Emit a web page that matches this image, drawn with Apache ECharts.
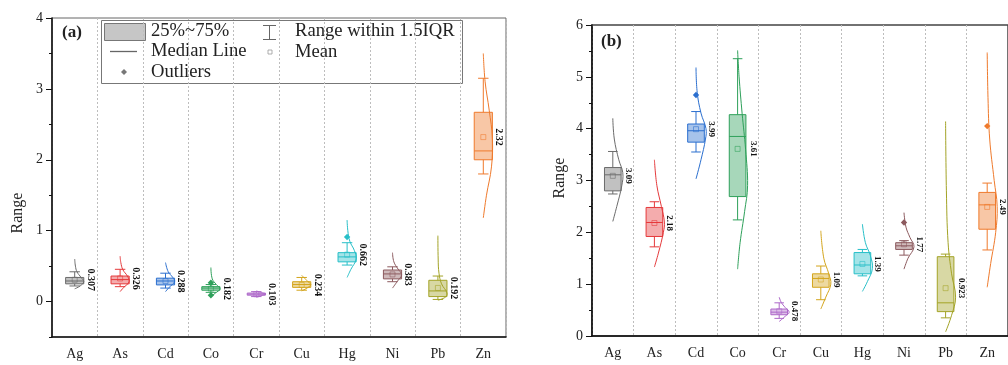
<!DOCTYPE html>
<html>
<head>
<meta charset="utf-8">
<script src="https://cdn.jsdelivr.net/npm/echarts@6/dist/echarts.min.js"></script>
<style>
  html, body { margin: 0; padding: 0; background: #fff; }
  #chart { width: 1008px; height: 365px; }
</style>
</head>
<body>
<div id="chart"></div>
<script>
const categories = ['Ag', 'As', 'Cd', 'Co', 'Cr', 'Cu', 'Hg', 'Ni', 'Pb', 'Zn'];

// panel (a)
const aQ1     = [0.25, 0.25, 0.235, 0.16, 0.09, 0.20, 0.56, 0.32, 0.07, 2.00];
const aMedian = [0.29, 0.31, 0.29, 0.19, 0.105, 0.24, 0.63, 0.39, 0.15, 2.125];
const aQ3     = [0.34, 0.36, 0.33, 0.21, 0.12, 0.28, 0.69, 0.445, 0.30, 2.67];
const aLow    = [0.22, 0.21, 0.19, 0.13, 0.07, 0.16, 0.515, 0.28, 0.03, 1.80];
const aHigh   = [0.42, 0.455, 0.40, 0.24, 0.14, 0.34, 0.83, 0.49, 0.36, 3.15];
const aMean   = [0.307, 0.326, 0.288, 0.182, 0.103, 0.234, 0.662, 0.383, 0.192, 2.32];
const aOutliers = [[], [], [], [0.265, 0.09], [], [], [0.91], [], [], []];
// [value, relative density]
const aViolin = [
  [[0.18, 0], [0.22, 0.6], [0.28, 1], [0.34, 0.7], [0.42, 0.25], [0.5, 0.08], [0.6, 0]],
  [[0.14, 0], [0.2, 0.4], [0.28, 1], [0.36, 0.8], [0.45, 0.3], [0.55, 0.08], [0.64, 0]],
  [[0.14, 0], [0.2, 0.4], [0.28, 1], [0.34, 0.8], [0.42, 0.3], [0.55, 0]],
  [[0.07, 0], [0.12, 0.5], [0.18, 1], [0.24, 0.6], [0.32, 0.15], [0.48, 0]],
  [[0.06, 0], [0.09, 0.7], [0.105, 1], [0.12, 0.7], [0.15, 0]],
  [[0.15, 0], [0.2, 0.7], [0.24, 1], [0.28, 0.7], [0.37, 0]],
  [[0.34, 0], [0.45, 0.4], [0.6, 1], [0.72, 0.8], [0.85, 0.3], [1.0, 0.08], [1.15, 0]],
  [[0.19, 0], [0.28, 0.5], [0.38, 1], [0.46, 0.6], [0.56, 0.15], [0.69, 0]],
  [[0.02, 0], [0.06, 0.8], [0.12, 1], [0.25, 0.4], [0.4, 0.12], [0.6, 0.03], [0.93, 0]],
  [[1.18, 0], [1.5, 0.35], [1.9, 0.9], [2.3, 1], [2.7, 0.65], [3.1, 0.2], [3.5, 0]]
];

// panel (b)
const bQ1     = [2.80, 1.92, 3.74, 2.69, 0.41, 0.94, 1.20, 1.67, 0.47, 2.06];
const bMedian = [3.11, 2.19, 3.96, 3.85, 0.46, 1.11, 1.37, 1.74, 0.64, 2.53];
const bQ3     = [3.25, 2.48, 4.09, 4.27, 0.52, 1.20, 1.61, 1.80, 1.53, 2.77];
const bLow    = [2.74, 1.72, 3.55, 2.24, 0.34, 0.70, 1.16, 1.56, 0.35, 1.66];
const bHigh   = [3.56, 2.59, 4.33, 5.35, 0.64, 1.35, 1.67, 1.84, 1.58, 2.95];
const bMean   = [3.09, 2.18, 3.99, 3.61, 0.478, 1.09, 1.39, 1.77, 0.923, 2.49];
const bOutliers = [[], [], [4.65], [], [], [], [], [2.19], [], [4.05]];
const bViolin = [
  [[2.21, 0], [2.5, 0.4], [2.9, 0.9], [3.15, 1], [3.4, 0.6], [3.8, 0.15], [4.2, 0]],
  [[1.33, 0], [1.6, 0.4], [2.0, 0.9], [2.2, 1], [2.5, 0.7], [2.9, 0.25], [3.4, 0]],
  [[3.03, 0], [3.4, 0.5], [3.8, 0.95], [4.0, 1], [4.3, 0.5], [4.7, 0.12], [5.18, 0]],
  [[1.29, 0], [1.8, 0.25], [2.4, 0.7], [2.9, 1], [3.6, 0.8], [4.3, 0.45], [5.0, 0.15], [5.51, 0]],
  [[0.28, 0], [0.38, 0.6], [0.46, 1], [0.55, 0.6], [0.65, 0.2], [0.75, 0]],
  [[0.52, 0], [0.75, 0.5], [1.0, 1], [1.2, 0.8], [1.5, 0.3], [2.03, 0]],
  [[0.86, 0], [1.05, 0.5], [1.3, 1], [1.55, 0.8], [1.8, 0.3], [2.16, 0]],
  [[1.29, 0], [1.5, 0.4], [1.72, 1], [1.9, 0.6], [2.1, 0.2], [2.38, 0]],
  [[0.08, 0], [0.4, 0.6], [0.75, 1], [1.2, 0.6], [1.8, 0.25], [2.8, 0.08], [4.14, 0]],
  [[0.94, 0], [1.4, 0.35], [2.0, 0.85], [2.5, 1], [3.0, 0.7], [3.8, 0.25], [4.6, 0.08], [5.47, 0]]
];

const palette = ['#6b6b6b', '#e5393b', '#2b6fcf', '#2ea05a', '#ad68c9', '#d4a51c', '#27bfc8', '#8c5a5e', '#a3a326', '#ef7a2c'];
const serif = '"Liberation Serif", "Times New Roman", serif';

function boxRenderer(p) {
  return function (params, api) {
    const i = api.value(0);
    const cx = api.coord([i, 0])[0];
    const band = api.size([1, 0])[0];
    const y = v => api.coord([i, v])[1];
    const c = palette[i];
    const hw = band * 0.2, cap = band * 0.115, vw = band * p.violinW;
    const line = (x1, y1, x2, y2) => ({ type: 'line', shape: { x1, y1, x2, y2 }, style: { stroke: c, lineWidth: 1 } });
    const kids = [];
    // whiskers + caps
    kids.push(line(cx, y(p.q3[i]), cx, y(p.high[i])));
    kids.push(line(cx, y(p.q1[i]), cx, y(p.low[i])));
    kids.push(line(cx - cap, y(p.high[i]), cx + cap, y(p.high[i])));
    kids.push(line(cx - cap, y(p.low[i]), cx + cap, y(p.low[i])));
    // box
    kids.push({
      type: 'rect',
      shape: { x: cx - hw, y: y(p.q3[i]), width: hw * 2, height: y(p.q1[i]) - y(p.q3[i]) },
      style: { fill: echarts.color.modifyAlpha(c, 0.42), stroke: c, lineWidth: 1 }
    });
    kids.push(line(cx - hw, y(p.median[i]), cx + hw, y(p.median[i])));
    // half violin
    kids.push({
      type: 'polyline',
      shape: { points: p.violin[i].map(d => [cx + d[1] * vw, y(d[0])]), smooth: 0.4 },
      style: { stroke: c, fill: null, lineWidth: 1 }
    });
    // mean
    const my = y(p.mean[i]);
    kids.push({
      type: 'rect',
      shape: { x: cx - 2.5, y: my - 2.5, width: 5, height: 5 },
      style: { fill: null, stroke: echarts.color.modifyAlpha(c, 0.7), lineWidth: 0.8 }
    });
    // outliers
    p.outliers[i].forEach(v => {
      const oy = y(v);
      kids.push({
        type: 'polygon',
        shape: { points: [[cx, oy - 3.2], [cx + 3.2, oy], [cx, oy + 3.2], [cx - 3.2, oy]] },
        style: { fill: c }
      });
    });
    // mean label
    kids.push({
      type: 'text',
      x: cx + band * p.labelOffset,
      y: my,
      rotation: -Math.PI / 2,
      style: {
        text: String(p.mean[i]), fill: '#111', fontFamily: serif, fontWeight: 'bold',
        fontSize: p.labelSize, align: 'center', verticalAlign: 'middle'
      }
    });
    return { type: 'group', children: kids };
  };
}

function xAxisFor(gridIndex) {
  return {
    type: 'category', gridIndex, data: categories,
    axisLine: { show: true, onZero: false, lineStyle: { color: '#111', width: 1.6 } },
    axisTick: { alignWithLabel: true, length: 5, lineStyle: { color: '#111' } },
    axisLabel: { fontFamily: serif, fontSize: 14, color: '#222', margin: 10 },
    splitLine: { show: true, lineStyle: { color: '#bdbdbd', type: [2, 2], width: 1 } }
  };
}

function yAxesFor(gridIndex, min, max, majors) {
  return [
    {
      type: 'value', gridIndex, position: 'left', min, max, interval: 0.5,
      axisLine: { show: true, onZero: false, lineStyle: { color: '#111', width: 1.6 } },
      splitLine: { show: false },
      axisTick: { show: true, length: 3, lineStyle: { color: '#111' } },
      axisLabel: { show: false }
    },
    {
      type: 'value', gridIndex, position: 'left', min, max,
      axisLine: { show: false, onZero: false },
      splitLine: { show: false },
      axisTick: { show: true, length: 6, customValues: majors, lineStyle: { color: '#111' } },
      axisLabel: { customValues: majors, fontFamily: serif, fontSize: 14, color: '#222', margin: 9 }
    }
  ];
}

const panelA = { q1: aQ1, median: aMedian, q3: aQ3, low: aLow, high: aHigh, mean: aMean, outliers: aOutliers, violin: aViolin, violinW: 0.2, labelSize: 10, labelOffset: 0.34 };
const panelB = { q1: bQ1, median: bMedian, q3: bQ3, low: bLow, high: bHigh, mean: bMean, outliers: bOutliers, violin: bViolin, violinW: 0.24, labelSize: 9, labelOffset: 0.37 };

const txt = (x, y, text, extra) => ({
  type: 'text', x, y, silent: true,
  style: Object.assign({ text, fontFamily: serif, fontSize: 18.6, fill: '#222', align: 'left', verticalAlign: 'middle' }, extra || {})
});

const legend = [
  { type: 'rect', shape: { x: 101.5, y: 20.5, width: 361, height: 63 }, style: { fill: '#fff', stroke: '#777', lineWidth: 1 } },
  { type: 'rect', shape: { x: 104.5, y: 23.5, width: 41, height: 17 }, style: { fill: '#c6c6c6', stroke: '#777', lineWidth: 1 } },
  txt(151, 31, '25%~75%'),
  { type: 'line', shape: { x1: 110, y1: 51.5, x2: 137, y2: 51.5 }, style: { stroke: '#666', lineWidth: 1.3 } },
  txt(151, 51, 'Median Line'),
  { type: 'polygon', shape: { points: [[124, 69], [127, 72], [124, 75], [121, 72]] }, style: { fill: '#777' } },
  txt(151, 72, 'Outliers'),
  { type: 'line', shape: { x1: 269.5, y1: 25, x2: 269.5, y2: 40 }, style: { stroke: '#666', lineWidth: 1 } },
  { type: 'line', shape: { x1: 263, y1: 25.5, x2: 276, y2: 25.5 }, style: { stroke: '#666', lineWidth: 1 } },
  { type: 'line', shape: { x1: 263, y1: 39.5, x2: 276, y2: 39.5 }, style: { stroke: '#666', lineWidth: 1 } },
  { type: 'rect', shape: { x: 268, y: 50, width: 4, height: 4 }, style: { fill: null, stroke: '#999', lineWidth: 0.8 } },
  txt(295, 31, 'Range within 1.5IQR'),
  txt(295, 52, 'Mean')
];

const option = {
  animation: false,
  backgroundColor: '#fff',
  grid: [
    { left: 52, top: 18, width: 454, height: 319, show: true, borderColor: '#666', borderWidth: 1, backgroundColor: 'transparent' },
    { left: 592, top: 25, width: 424, height: 311, show: true, borderColor: '#444', borderWidth: 1.5, backgroundColor: 'transparent' }
  ],
  xAxis: [xAxisFor(0), xAxisFor(1)],
  yAxis: yAxesFor(0, -0.5, 4, [0, 1, 2, 3, 4]).concat(yAxesFor(1, 0, 6, [0, 1, 2, 3, 4, 5, 6])),
  series: [
    { type: 'custom', xAxisIndex: 0, yAxisIndex: 0, silent: true, renderItem: boxRenderer(panelA), data: categories.map((c, i) => [i]) },
    { type: 'custom', xAxisIndex: 1, yAxisIndex: 2, silent: true, renderItem: boxRenderer(panelB), data: categories.map((c, i) => [i]) }
  ],
  graphic: legend.concat([
    txt(62, 33, '(a)', { fontWeight: 'bold', fontSize: 17 }),
    txt(601, 42, '(b)', { fontWeight: 'bold', fontSize: 17 }),
    { type: 'text', x: 18, y: 213, rotation: Math.PI / 2, silent: true,
      style: { text: 'Range', fontFamily: serif, fontSize: 16, fill: '#222', align: 'center', verticalAlign: 'middle' } },
    { type: 'text', x: 560, y: 178, rotation: Math.PI / 2, silent: true,
      style: { text: 'Range', fontFamily: serif, fontSize: 16, fill: '#222', align: 'center', verticalAlign: 'middle' } }
  ])
};

const chart = echarts.init(document.getElementById('chart'), null, { renderer: 'canvas' });
chart.setOption(option);
</script>
</body>
</html>
